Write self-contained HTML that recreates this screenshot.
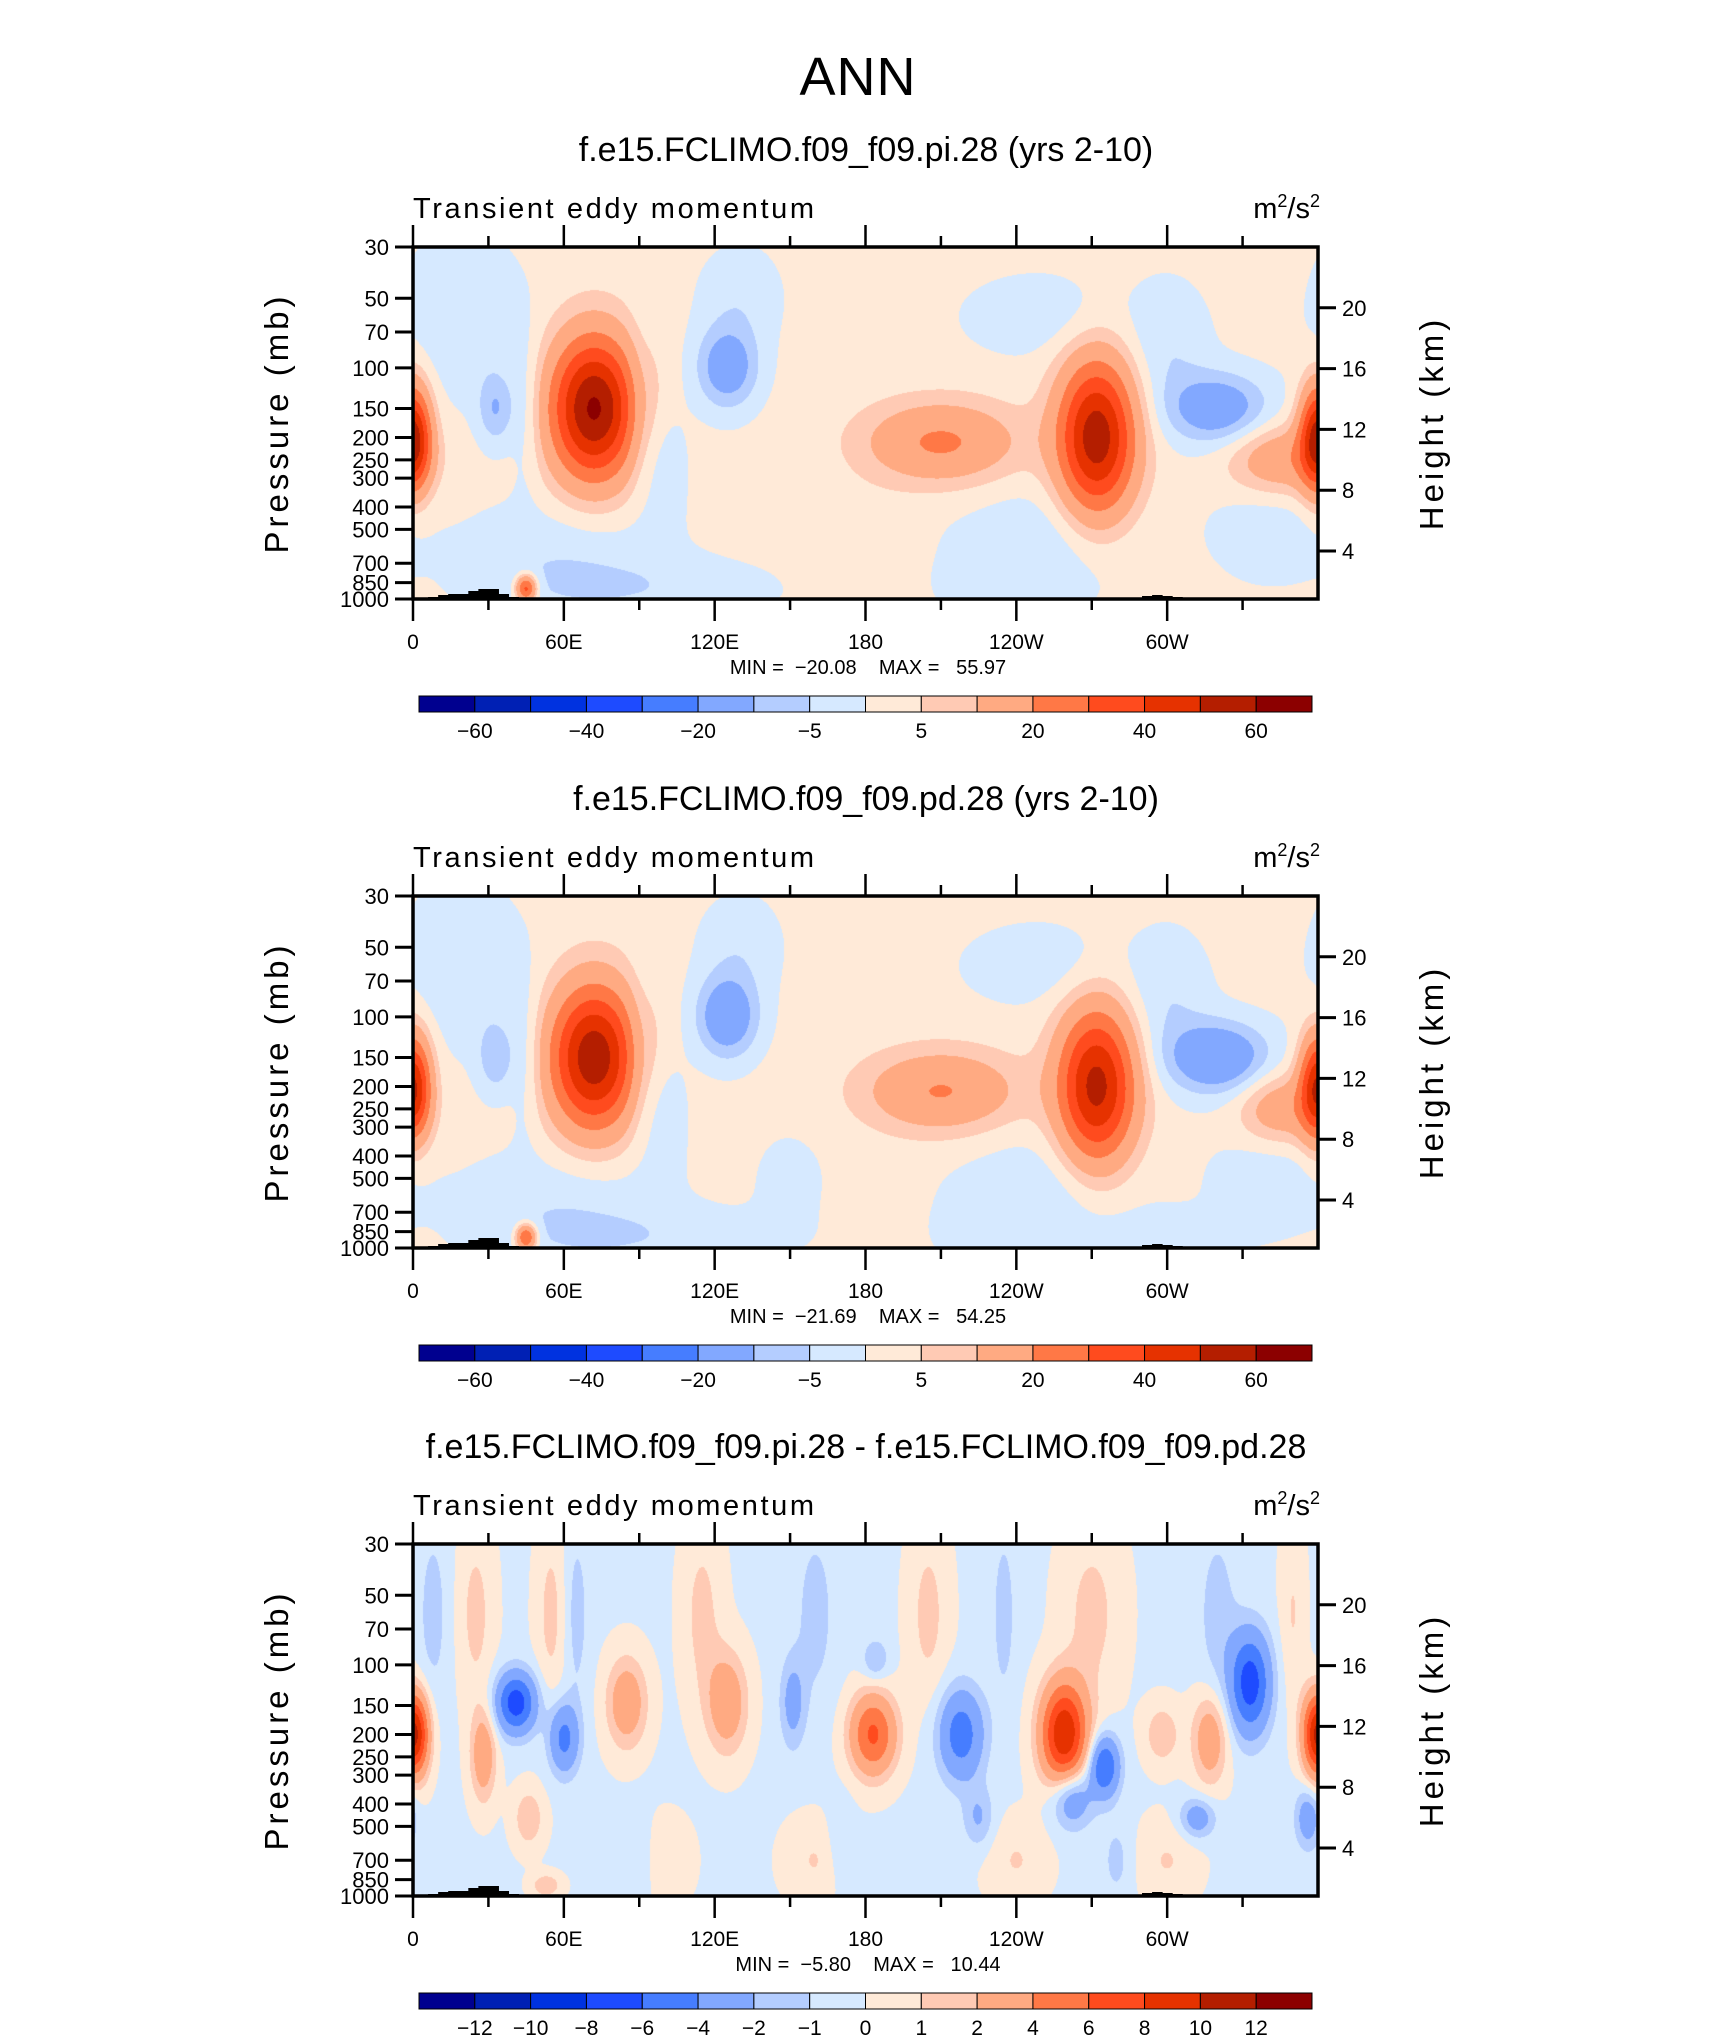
<!DOCTYPE html>
<html><head><meta charset="utf-8">
<style>
body{margin:0;background:#fff;}
#root{position:relative;width:1710px;height:2038px;overflow:hidden;background:#fff;font-family:"Liberation Sans",sans-serif;color:#000;}
.t{position:absolute;white-space:nowrap;}
canvas{position:absolute;}
svg{position:absolute;left:0;top:0;}
</style></head>
<body>
<div id="root">
<div class="t" style="left:0;width:1716px;text-align:center;top:46px;font-size:54px;letter-spacing:1px;">ANN</div>
<svg id="ov" width="1710" height="2038"></svg>
</div>
<script>
// ---------- data ----------
const lonTickLabels = ["0","60E","120E","180","120W","60W"];
const presTicks = [30,50,70,100,150,200,250,300,400,500,700,850,1000];
const heightTicks = [4,8,12,16,20];
const levels12 = [-60,-50,-40,-30,-20,-10,-5,0,5,10,20,30,40,50,60];
const levelLabels12 = ["-60","","-40","","-20","","-5","","5","","20","","40","","60"];
const levels3 = [-12,-10,-8,-6,-4,-2,-1,0,1,2,4,6,8,10,12];
const levelLabels3 = ["-12","-10","-8","-6","-4","-2","-1","0","1","2","4","6","8","10","12"];
const colors = ["#00008f","#0020b4","#0032e0","#1e4bff","#467dff","#82a8ff","#b4cdff","#d6e9ff","#ffead8","#ffcab4","#ffaa82","#ff7846","#ff4b1e","#e63200","#b41e00","#8c0000"];
const titles = ["f.e15.FCLIMO.f09_f09.pi.28 (yrs 2-10)","f.e15.FCLIMO.f09_f09.pd.28 (yrs 2-10)","f.e15.FCLIMO.f09_f09.pi.28 - f.e15.FCLIMO.f09_f09.pd.28"];
const minVals = ["-20.08","-21.69","-5.80"];
const maxVals = ["55.97","54.25","10.44"];
// blob features: lon (deg E), pressure (mb), amplitude, lon width (deg), log-p width
const p1Lon = [72,272,210,0,360,345,45,125,33,320,20,130,250,300,60,250,340,100,100,175,160,230,90,45];
const p1P   = [150,200,210,200,200,250,900,100,150,150,60,50,60,80,700,600,500,900,250,600,400,900,150,150];
const p1Amp = [60,55,20,26,26,16,35,-17,-11,-18,-6,-5,-5,-6,-6,-6,-5,-4,-5,2,-2,-3,-5,-5];
const p1SL  = [17,15,30,7,7,20,4,12,7,20,22,16,30,16,40,35,22,50,9,20,10,20,6,6];
const p1SP  = [0.7,0.75,0.4,0.5,0.5,0.35,0.13,0.4,0.35,0.35,0.8,0.5,0.4,0.6,0.6,0.6,0.5,0.3,0.6,0.6,0.3,0.3,0.8,0.8];
const p2Lon = [72,272,210,0,360,345,45,125,33,320,20,130,250,300,60,250,340,100,100,150,230,300,90,45];
const p2P   = [150,200,210,200,200,250,900,100,150,150,60,50,60,80,700,600,500,900,250,500,900,900,150,150];
const p2Amp = [56,52,19,24,24,15,33,-19,-10,-21,-6,-5,-5,-6,-6,-6,-5,-4,-5,-3,-3,-3,-5,-5];
const p2SL  = [17,15,30,7,7,16,4,12,7,20,22,16,30,16,40,35,22,50,9,15,20,30,6,6];
const p2SP  = [0.7,0.75,0.4,0.5,0.5,0.35,0.13,0.4,0.35,0.35,0.8,0.5,0.4,0.6,0.6,0.6,0.5,0.3,0.6,0.5,0.3,0.3,0.8,0.8];
const p3Lon = [2,358,41,60,28,85,125,151,184,183,218,259,275,262,317,298,333,356,312,225,46,53,25,55,115,205,270,350,100,160,240,300,8,65,160,235,320,90,170,280];
const p3P   = [200,200,146,208,246,146,146,146,95,200,200,200,275,375,210,200,120,460,460,460,460,900,60,60,60,60,60,60,700,700,700,700,60,60,60,60,60,700,600,700];
const p3Amp = [7,6,-7,-4.5,3.5,3.5,3.5,-2.5,-2,6.5,-5,10,-6,-4,3.5,2,-7,-3,-3,-2,2,2,1.5,1.5,1.5,1.5,1.5,1.2,1.2,1.2,1.2,1.2,-1.3,-1.3,-1.3,-1.3,-1.3,-1.2,-1.2,-1.2];
const p3SL  = [5,5,8,6,5,8,8,5,5,9,9,9,6,8,7,7,8,5,7,6,6,6,7,6,8,8,12,5,10,12,12,12,6,5,8,5,8,6,5,6];
const p3SP  = [0.4,0.4,0.3,0.35,0.45,0.45,0.5,0.45,0.2,0.4,0.45,0.5,0.3,0.3,0.45,0.3,0.5,0.3,0.2,0.3,0.3,0.12,0.9,0.9,0.9,0.9,0.9,0.9,0.4,0.4,0.4,0.4,0.9,0.9,0.9,0.9,0.9,0.4,0.4,0.4];
const topoLon = [8,12,16,20,24,28,32,36,40,292,296,300,304];
const topoH   = [2,4,5,5,8,10,10,5,2,3,4,3,2];
// ---------- layout ----------
const L=413,R=1318,W=R-L,H=352;
const tops=[247,896,1544];
const cbTops=[696,1345,1993];
const NS="http://www.w3.org/2000/svg";
const ov=document.getElementById('ov');
const root=document.getElementById('root');
function xLon(lon){return L+lon/360*W;}
function yP(top,p){return top+H-Math.log(1000/p)/Math.log(1000/30)*H;}
function yKm(top,km){return top+304+(km-4)*(-15.2);}
function mk(tag,attrs){const e=document.createElementNS(NS,tag);for(const k in attrs)e.setAttribute(k,attrs[k]);ov.appendChild(e);return e;}
function txt(s,x,y,size,anchor,name){const e=mk('text',{x:x,y:y,'font-size':size,'text-anchor':anchor||'start','font-family':'Liberation Sans, sans-serif'});e.textContent=s;


return e;}
function levelIndex(v,lv){let k=0;while(k<lv.length&&v>=lv[k])k++;return k;}
function hexRGB(h){return [parseInt(h.substr(1,2),16),parseInt(h.substr(3,2),16),parseInt(h.substr(5,2),16)];}
const rgb=colors.map(hexRGB);
const fields=[[p1Lon,p1P,p1Amp,p1SL,p1SP,1.5],[p2Lon,p2P,p2Amp,p2SL,p2SP,1.5],[p3Lon,p3P,p3Amp,p3SL,p3SP,-0.15]];
for(let i=0;i<3;i++){
  const top=tops[i];
  const [bl,bp,ba,bs,bw,base]=fields[i];
  const lv=i<2?levels12:levels3;
  const tt=document.createElement('div');tt.className='t';
  
  
  tt.style.cssText='left:0;width:1732px;text-align:center;top:'+(top-116)+'px;font-size:34px;';
  tt.textContent=titles[i];root.appendChild(tt);
  const cv=document.createElement('canvas');cv.width=W;cv.height=H;
  cv.style.left=L+'px';cv.style.top=top+'px';
  
  
  root.insertBefore(cv,ov);
  const ctx=cv.getContext('2d');const img=ctx.createImageData(W,H);
  const lnTop=Math.log(30),lnBot=Math.log(1000);
  for(let y=0;y<H;y++){
    const lp=lnTop+(y+0.5)/H*(lnBot-lnTop);
    for(let x=0;x<W;x++){
      const lon=(x+0.5)/W*360;
      let v=base;
      for(let b=0;b<bl.length;b++){
        let d=Math.abs(lon-bl[b]);if(d>180)d=360-d;
        const dl=d/bs[b],dp=(lp-Math.log(bp[b]))/bw[b];
        const e=dl*dl+dp*dp;if(e<12)v+=ba[b]*Math.exp(-e);
      }
      const c=rgb[levelIndex(v,lv)];const o=(y*W+x)*4;
      img.data[o]=c[0];img.data[o+1]=c[1];img.data[o+2]=c[2];img.data[o+3]=255;
    }
  }
  ctx.putImageData(img,0,0);
  for(let t=0;t<topoLon.length;t++){
    const r=mk('rect',{x:xLon(topoLon[t]-2),y:top+H-topoH[t],width:W*4/360+0.5,height:topoH[t],fill:'#000'});
    
    
  }
  const fr=mk('rect',{x:L,y:top,width:W,height:H,fill:'none',stroke:'#000','stroke-width':3.5});
  
  
  for(let k=0;k<12;k++){
    const x=xLon(k*30),major=k%2===0,len=major?22:11;
    mk('line',{x1:x,x2:x,y1:top,y2:top-len,stroke:'#000','stroke-width':2.5});
    mk('line',{x1:x,x2:x,y1:top+H,y2:top+H+len,stroke:'#000','stroke-width':2.5});
    if(major)txt(lonTickLabels[k/2],x,top+H+50,21,'middle','x-tick-label');
  }
  for(const p of presTicks){
    const y=yP(top,p);
    mk('line',{x1:L-18,x2:L,y1:y,y2:y,stroke:'#000','stroke-width':3});
    txt(String(p),L-24,y+8,22,'end','y-tick-label');
  }
  for(const km of heightTicks){
    const y=yKm(top,km);
    mk('line',{x1:R,x2:R+18,y1:y,y2:y,stroke:'#000','stroke-width':3});
    txt(String(km),R+24,y+8,22,'start','height-tick-label');
  }
  txt('Transient eddy momentum',L,top-29,29,'start','variable-label').setAttribute('letter-spacing','2.6');
  const u=txt('',R+2,top-29,29,'end','units-label');
  u.innerHTML='m<tspan dy="-11" font-size="18">2</tspan><tspan dy="11">/s</tspan><tspan dy="-11" font-size="18">2</tspan>';
  const yt=txt('Pressure (mb)',0,0,33,'middle','y-axis-title');yt.setAttribute('letter-spacing','4');
  yt.setAttribute('transform','translate(288,'+(top+176)+') rotate(-90)');
  const ht=txt('Height (km)',0,0,33,'middle','right-axis-title');ht.setAttribute('letter-spacing','4');
  ht.setAttribute('transform','translate(1443,'+(top+176)+') rotate(-90)');
  const mm=txt('MIN =  '+minVals[i].replace('-','\u2212')+'    MAX =   '+maxVals[i],868,top+H+75,20,'middle','min-max-label');
  mm.style.whiteSpace='pre';
  const cbT=cbTops[i],cbL=419,cbW=893,bw2=cbW/16;
  for(let c=0;c<16;c++){
    const r=mk('rect',{x:cbL+c*bw2,y:cbT,width:bw2,height:16,fill:colors[c],stroke:'#000','stroke-width':1});
    
    
  }
  const labs=i<2?levelLabels12:levelLabels3;
  for(let c=0;c<15;c++){ if(labs[c])txt(labs[c].replace('-','\u2212'),cbL+(c+1)*bw2,cbT+42,21,'middle','colorbar-label'); }
}
</script>
</body></html>
